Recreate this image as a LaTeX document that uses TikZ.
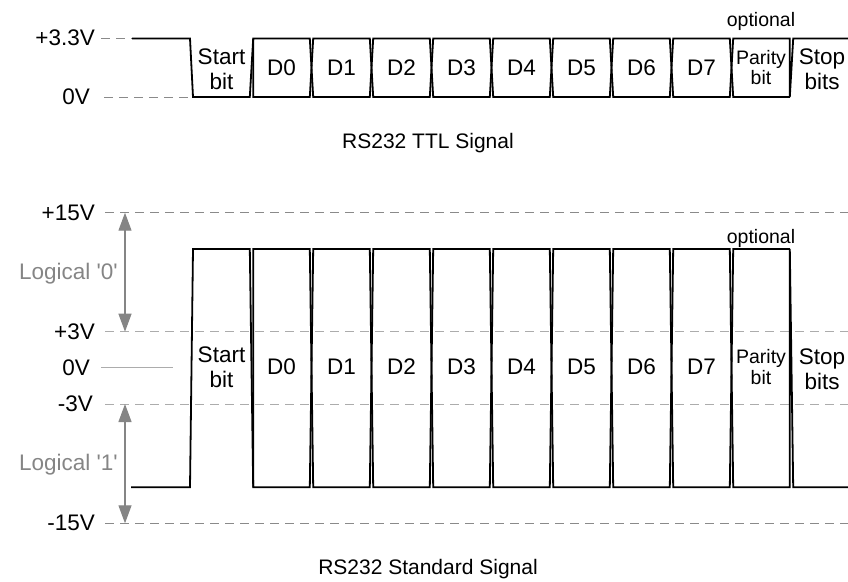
\documentclass[tikz,border=0pt]{standalone}
\usepackage{fontspec}
\setmainfont{Liberation Sans}
\usetikzlibrary{arrows.meta}
\definecolor{dkdash}{HTML}{8A8A8A}
\definecolor{ltdash}{HTML}{ACACAC}
\definecolor{logicgray}{HTML}{858585}
\newcommand\mywave[3]{%
 \draw[sig] (#3,#1) -- (190,#1) -- (193,#2) -- (249.8,#2) -- (253.2,#1)
   \foreach \k in {1,...,8}{ -- ({251.5+60*\k-1.7},{#1+(#2-#1)*mod(\k-1,2)}) -- ({251.5+60*\k+1.7},{#1+(#2-#1)*mod(\k,2)}) }
   -- (789.8,#1) -- (789.8,#2) -- (793.2,#1) -- (848,#1);
 \draw[sig] (253.2,#1) -- (253.2,#2)
   \foreach \k in {1,...,8}{ -- ({251.5+60*\k-1.7},{#2+(#1-#2)*mod(\k-1,2)}) -- ({251.5+60*\k+1.7},{#2+(#1-#2)*mod(\k,2)}) }
   -- (789.8,#2);
}
\begin{document}
\begin{tikzpicture}[x=1pt,y=-1pt,
  sig/.style={line width=1.8pt, black, line join=miter},
  dkline/.style={line width=1pt, dkdash, dash pattern=on 9pt off 6pt},
  ltline/.style={line width=1pt, ltdash, dash pattern=on 9pt off 6pt},
  lab/.style={font=\fontsize{22.5}{25}\selectfont, inner sep=0pt},
  ttl/.style={font=\fontsize{21}{25}\selectfont, inner sep=0pt},
  small/.style={font=\fontsize{19.5}{20.5}\selectfont, inner sep=0pt, align=center},
  two/.style={font=\fontsize{22.5}{24.6}\selectfont, inner sep=0pt, align=center},
  logic/.style={font=\fontsize{22.5}{25}\selectfont, inner sep=0pt, text=logicgray},
  garrow/.style={line width=1.2pt, logicgray, {Triangle[length=18pt,width=13pt]}-{Triangle[length=18pt,width=13pt]}}
]
\useasboundingbox (0,0) rectangle (848,581);
% ---------------- TTL signal ----------------
\coordinate (th0) at (101,38.5);
\coordinate (th1) at (132,38.5);
\coordinate (tl0) at (104,97);
\coordinate (tl1) at (193,97);
\draw[dkline] (th0) -- (th1);
\draw[dkline] (tl0) -- (tl1);
\mywave{38.5}{97}{132}
\node[lab, anchor=base east] (vttl33) at (95,45.5) {+3.3V};
\node[lab, anchor=base east] (vttl0) at (90,104) {0V};
\node[two] (ttlstart) at (221.5,69) {Start\\bit};
\foreach \i in {0,...,7}{
  \node[lab, anchor=base] (ttlD\i) at ({281.5+60*\i},75) {D\i};
}
\node[small] (ttlpar) at (761,67.5) {Parity\\bit};
\node[two] (ttlstop) at (822,69.5) {Stop\\bits};
\node[small, anchor=base] (ttlopt) at (761,26) {optional};
\node[ttl, anchor=base] (ttltitle) at (428,148.5) {RS232 TTL Signal};
% ---------------- Standard signal ----------------
\coordinate (p15a) at (105,212.7);
\coordinate (p15b) at (848,212.7);
\coordinate (p3a) at (105,331.7);
\coordinate (p3b) at (848,331.7);
\coordinate (m3a) at (105,404);
\coordinate (m3b) at (848,404);
\coordinate (m15a) at (105,523.3);
\coordinate (m15b) at (848,523.3);
\coordinate (z0a) at (101,367.7);
\coordinate (z0b) at (173,367.7);
\draw[dkline] (p15a) -- (p15b);
\draw[ltline] (p3a) -- (p3b);
\draw[ltline] (m3a) -- (m3b);
\draw[dkline] (m15a) -- (m15b);
\draw[line width=1pt, ltdash] (z0a) -- (z0b);
\coordinate (a0t) at (125,212.7);
\coordinate (a0b) at (125,331.7);
\coordinate (a1t) at (125,404);
\coordinate (a1b) at (125,523.3);
\draw[garrow] (a0t) -- (a0b);
\draw[garrow] (a1t) -- (a1b);
\mywave{487.3}{249}{131}
\node[lab, anchor=base east] (v15) at (95,220.2) {+15V};
\node[lab, anchor=base east] (v3) at (95,339.2) {+3V};
\node[lab, anchor=base east] (v0) at (90,375.2) {0V};
\node[lab, anchor=base east] (vm3) at (93,411.5) {-3V};
\node[lab, anchor=base east] (vm15) at (95,530.8) {-15V};
\node[logic, anchor=base east] (log0) at (118,279) {Logical \textquotesingle 0\textquotesingle};
\node[logic, anchor=base east] (log1) at (118,470) {Logical \textquotesingle 1\textquotesingle};
\node[two] (stdstart) at (221.5,367.5) {Start\\bit};
\foreach \i in {0,...,7}{
  \node[lab, anchor=base] (stdD\i) at ({281.5+60*\i},374.5) {D\i};
}
\node[small] (stdpar) at (761,367) {Parity\\bit};
\node[two] (stdstop) at (822,369) {Stop\\bits};
\node[small, anchor=base] (stdopt) at (761,243) {optional};
\node[ttl, anchor=base] (stdtitle) at (428,574) {RS232 Standard Signal};
\end{tikzpicture}
\end{document}
